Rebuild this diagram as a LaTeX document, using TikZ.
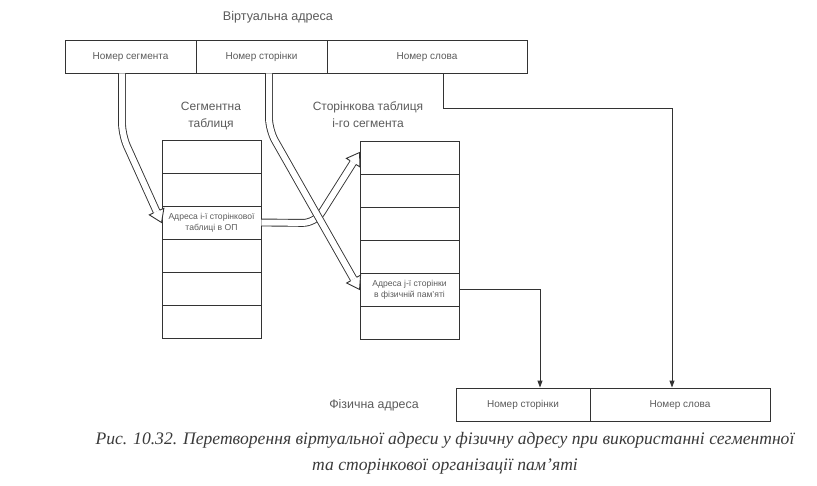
\documentclass[tikz,border=0pt]{standalone}
\usepackage{fontspec}
\setmainfont{Liberation Sans}
\newfontfamily\capfont{Liberation Serif}
\usetikzlibrary{calc,arrows.meta}
\definecolor{txt}{HTML}{5A5A5A}
\definecolor{ln}{HTML}{333333}
\definecolor{captxt}{HTML}{3A3A3A}
\tikzset{
  cell/.style={draw=ln, line width=0.9pt, minimum height=33pt, inner sep=0pt, text=txt,
    font=\fontsize{10}{11}\selectfont, text height=7.5pt, text depth=2pt},
  rowbox/.style={draw=ln, line width=0.9pt, minimum width=99pt, minimum height=33pt,
    inner sep=0pt, text=txt, font=\fontsize{8.6}{11}\selectfont, align=center},
  lbl/.style={text=txt, font=\fontsize{12}{17}\selectfont, align=center},
  shaft/.style={draw=ln, double=white, double distance=6pt, line width=0.9pt, rounded corners=12pt},
  wire/.style={draw=ln, line width=0.9pt, -{Triangle[length=7pt,width=5pt]}},
  caption/.style={text=captxt, font=\capfont\itshape\fontsize{17.6}{26}\selectfont, align=center},
}
\newcommand{\hhead}[2]{%
  \fill[white] (#1) -- ($($(#1)!12pt!(#2)$)!8pt!90:(#1)$) -- ($($(#1)!12pt!(#2)$)!8pt!-90:(#1)$) -- cycle;
  \draw[draw=ln, line width=0.9pt, line join=miter]
    ($($(#1)!12pt!(#2)$)!3.5pt!90:(#1)$) -- ($($(#1)!12pt!(#2)$)!8pt!90:(#1)$) -- (#1)
    -- ($($(#1)!12pt!(#2)$)!8pt!-90:(#1)$) -- ($($(#1)!12pt!(#2)$)!3.5pt!-90:(#1)$);
}
\begin{document}
\begin{tikzpicture}[x=1pt,y=-1pt]
\useasboundingbox (0,0) rectangle (817,485);
% virtual address
\node[lbl, font=\fontsize{12.6}{15}\selectfont] (vtitle) at (278,17) {Віртуальна адреса};
\node[cell, minimum width=131pt] (v1) at (130.5,56.5) {Номер сегмента};
\node[cell, minimum width=131pt] (v2) at (261.5,56.5) {Номер сторінки};
\node[cell, minimum width=200pt] (v3) at (427,56.5) {Номер слова};
% segment table
\node[lbl] (stitle) at (211,116) {Сегментна\\таблиця};
\foreach \i in {1,...,6} {
  \node[rowbox] (s\i) at (211.5,{140+33*(\i-1)+16.5}) {};
}
\node[rowbox] at (s3) {Адреса і-ї сторінкової\\таблиці в ОП};
% page table
\node[lbl] (ptitle) at (368,115) {Сторінкова таблиця\\і-го сегмента};
\foreach \i in {1,...,6} {
  \node[rowbox] (p\i) at (409.5,{141+33*(\i-1)+16.5}) {};
}
\node[rowbox] at (p5) {Адреса ј-ї сторінки\\в фізичній пам'яті};
% physical address
\node[lbl, font=\fontsize{12.4}{15}\selectfont] (ftitle) at (374,405) {Фізична адреса};
\node[cell, minimum width=134pt] (f1) at (523,404.5) {Номер сторінки};
\node[cell, minimum width=180pt] (f2) at (680,404.5) {Номер слова};
% helper coordinates
\coordinate (k1) at (122,135);
\coordinate (k2) at (269,130);
\coordinate (k3) at (315,223);
\coordinate (t3) at ($(p1.west)+(0,-5)$);
% hollow arrows
\draw[shaft] (s3.east) -- (k3) -- ($(t3)!12pt!(k3)$);
\hhead{t3}{k3}
\draw[shaft] (v1.south -| k1) -- (k1) -- ($(s3.west)!12pt!(k1)$);
\hhead{s3.west}{k1}
\draw[shaft] (v2.south -| k2) -- (k2) -- ($(p5.west)!12pt!(k2)$);
\hhead{p5.west}{k2}
% thin wires
\draw[wire] (p5.east) -| (f1.north -| 540,0);
\draw[wire] (v3.south -| 443,0) |- (672,108) -- (f2.north -| 672,0);
% caption
\node[caption] (cap) at (445,453) {Рис. 10.32. Перетворення віртуальної адреси у фізичну адресу при використанні сегментної\\та сторінкової організації пам’яті};
\end{tikzpicture}
\end{document}
